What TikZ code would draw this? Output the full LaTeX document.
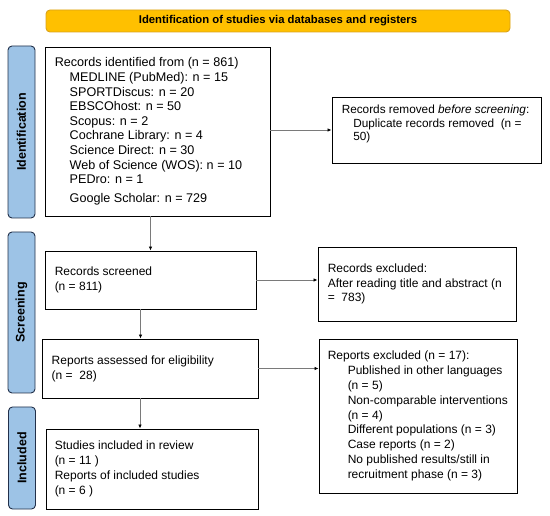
\documentclass[tikz,border=0pt]{standalone}
\usepackage{fontspec}
\setmainfont{Liberation Sans}
\usetikzlibrary{arrows.meta}
\definecolor{gold}{HTML}{FFC000}
\definecolor{goldline}{HTML}{D9A21B}
\definecolor{sideblue}{HTML}{9DC3E6}
\definecolor{sideline}{HTML}{22304A}
\definecolor{arrgray}{HTML}{7A7A7A}
\begin{document}
\begin{tikzpicture}[x=1pt,y=-1pt,
  box/.style={draw=black,line width=0.9pt,inner sep=0pt},
  banner/.style={draw=goldline,fill=gold,line width=0.9pt,rounded corners=4pt,inner sep=0pt,font=\fontsize{11.3}{13}\selectfont\bfseries},
  side/.style={draw=sideline,fill=sideblue,line width=0.9pt,rounded corners=4pt,inner sep=0pt,rotate=90,minimum height=27pt,font=\fontsize{12.5}{14}\selectfont\bfseries},
  txt/.style={anchor=west,align=left,inner sep=0pt,font=\fontsize{12}{14.8}\selectfont},
  arr/.style={draw=arrgray,line width=0.9pt,-{Latex[length=4pt,width=3.5pt,color=black]}}
]
\useasboundingbox (0,0) rectangle (550,516);

% banner
\node[banner,minimum width=464pt,minimum height=22pt] (ban) at (278,21) {Identification of studies via databases and registers};

% side bars
\node[side,minimum width=172pt] (sideI) at (21.5,132) {Identification};
\node[side,minimum width=161pt] (sideS) at (21.5,312.5) {Screening};
\node[side,minimum width=102pt] (sideN) at (22,458) {Included};

% boxes
\node[box,minimum width=225pt,minimum height=169pt] (ident) at (157.5,131.5) {};
\node[box,minimum width=209pt,minimum height=66pt] (removed) at (436.5,130) {};
\node[box,minimum width=211pt,minimum height=58pt] (screened) at (150.5,280) {};
\node[box,minimum width=198pt,minimum height=74pt] (excl) at (417,284) {};
\node[box,minimum width=216pt,minimum height=59pt] (assessed) at (150,368.5) {};
\node[box,minimum width=198pt,minimum height=154pt] (repexcl) at (418,416) {};
\node[box,minimum width=212pt,minimum height=80pt] (incl) at (152,469) {};

% texts
\node[txt,font=\fontsize{12.6}{14.6}\selectfont] (identT) at ([xshift=10pt]ident.west) {Records identified from (n = 861)\\
\hspace*{15pt}MEDLINE (PubMed): n = 15\\
\hspace*{15pt}SPORTDiscus: n = 20\\
\hspace*{15pt}EBSCOhost: n = 50\\
\hspace*{15pt}Scopus: n = 2\\
\hspace*{15pt}Cochrane Library: n = 4\\
\hspace*{15pt}Science Direct: n = 30\\
\hspace*{15pt}Web of Science (WOS): n = 10\\
\hspace*{15pt}PEDro: n = 1\\[4.5pt]
\hspace*{15pt}Google Scholar: n = 729};

\node[txt,font=\fontsize{11.8}{13.2}\selectfont] (removedT) at ([xshift=10pt,yshift=6pt]removed.west) {Records removed \textit{before screening}:\\
\hspace*{11.5pt}Duplicate records removed \ (n =\\
\hspace*{11.5pt}50)};

\node[txt] (screenedT) at ([xshift=10pt]screened.west) {Records screened\\(n = 811)};

\node[txt] (exclT) at ([xshift=10pt]excl.west) {Records excluded:\\After reading title and abstract (n\\= \ 783)};

\node[txt] (assessedT) at ([xshift=10pt]assessed.west) {Reports assessed for eligibility\\(n = \ 28)};

\node[txt] (repexclT) at ([xshift=9pt]repexcl.west) {Reports excluded (n = 17):\\
\hspace*{20pt}Published in other languages\\
\hspace*{20pt}(n = 5)\\
\hspace*{20pt}Non-comparable interventions\\
\hspace*{20pt}(n = 4)\\
\hspace*{20pt}Different populations (n = 3)\\
\hspace*{20pt}Case reports (n = 2)\\
\hspace*{20pt}No published results/still in\\
\hspace*{20pt}recruitment phase (n = 3)};

\node[txt] (inclT) at ([xshift=9pt]incl.west) {Studies included in review\\(n = 11 )\\Reports of included studies\\(n = 6 )};

% connectors
\draw[arr] (screened.north |- ident.south) -- (screened.north);
\draw[arr] (ident.east |- removed.west) -- (removed.west);
\draw[arr] (screened.east) -- (excl.west |- screened.east);
\draw[arr] ([xshift=-10pt]screened.south) -- ([xshift=-10pt]screened.south |- assessed.north);
\draw[arr] (assessed.east) -- (repexcl.west |- assessed.east);
\draw[arr] ([xshift=-10pt]assessed.south) -- ([xshift=-10pt]assessed.south |- incl.north);
\end{tikzpicture}
\end{document}
